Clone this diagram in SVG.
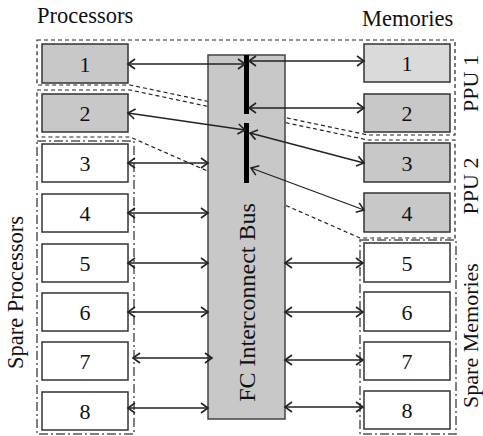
<svg xmlns="http://www.w3.org/2000/svg" width="483" height="436" viewBox="0 0 483 436">
<style>
.t{font-family:"Liberation Serif","Times New Roman",serif;font-size:22.5px;fill:#111}
.r{font-size:22px}
.d{font-family:"Liberation Serif","Times New Roman",serif;font-size:22px;fill:#111;text-anchor:middle}
.box{stroke:#333;stroke-width:1.5}
.g{fill:#c8c8c8}
.w{fill:#fff}
.l{fill:#dadada}
.ppu{fill:none;stroke:#222;stroke-width:1.2;stroke-dasharray:4,3}
.spare{fill:none;stroke:#555;stroke-width:1.5;stroke-dasharray:9,3,2,3}
.ar{stroke:#222;stroke-width:1.3;fill:none;marker-start:url(#ah);marker-end:url(#ah)}
</style>
<defs>
<marker id="ah" viewBox="-9 -7 11 14" markerWidth="11" markerHeight="14" refX="0" refY="0" orient="auto-start-reverse" markerUnits="userSpaceOnUse">
<path d="M-7,-5 L0,0 L-7,5" fill="none" stroke="#222" stroke-width="1.6"/>
</marker>
</defs>
<rect width="483" height="436" fill="#fff"/>

<g id="groups">
<polygon class="ppu" points="37,40 455,40 455,135 368,135 130,85 37,85"/>
<polygon class="ppu" points="37,90 130,90 368,140 455,140 455,238 360,238 130,137 37,137"/>
<rect class="spare" x="37" y="141" width="97" height="293"/>
<rect class="spare" x="360" y="240" width="96" height="194"/>
</g>

<g id="bus">
<rect x="208" y="55" width="77" height="364" fill="#c8c8c8" stroke="#444" stroke-width="1.5"/>
<rect x="244" y="55" width="5" height="59" fill="#000"/>
<rect x="244" y="123" width="5" height="60" fill="#000"/>
<text class="t" style="font-size:24px" text-anchor="middle" transform="translate(255,302.5) rotate(-90)">FC Interconnect Bus</text>
</g>

<g id="processors">
<g id="p1"><rect class="box g" x="42" y="44" width="86" height="39"/><text class="d" x="85" y="72">1</text></g>
<g id="p2"><rect class="box g" x="42" y="94" width="86" height="38"/><text class="d" x="85" y="121">2</text></g>
<g id="p3"><rect class="box w" x="42" y="144" width="86" height="38"/><text class="d" x="85" y="171">3</text></g>
<g id="p4"><rect class="box w" x="42" y="194" width="86" height="38"/><text class="d" x="85" y="221">4</text></g>
<g id="p5"><rect class="box w" x="42" y="244" width="86" height="38"/><text class="d" x="85" y="271">5</text></g>
<g id="p6"><rect class="box w" x="42" y="293" width="86" height="38"/><text class="d" x="85" y="320">6</text></g>
<g id="p7"><rect class="box w" x="42" y="342" width="86" height="38"/><text class="d" x="85" y="369">7</text></g>
<g id="p8"><rect class="box w" x="42" y="392" width="86" height="38"/><text class="d" x="85" y="419">8</text></g>
</g>

<g id="memories">
<g id="m1"><rect class="box l" x="364" y="44" width="86" height="38"/><text class="d" x="407" y="71">1</text></g>
<g id="m2"><rect class="box g" x="364" y="94" width="86" height="38"/><text class="d" x="407" y="121">2</text></g>
<g id="m3"><rect class="box g" x="364" y="143" width="86" height="39"/><text class="d" x="407" y="171">3</text></g>
<g id="m4"><rect class="box g" x="364" y="193" width="86" height="39"/><text class="d" x="407" y="221">4</text></g>
<g id="m5"><rect class="box w" x="364" y="243" width="86" height="39"/><text class="d" x="407" y="271">5</text></g>
<g id="m6"><rect class="box w" x="364" y="292" width="86" height="39"/><text class="d" x="407" y="320">6</text></g>
<g id="m7"><rect class="box w" x="364" y="342" width="86" height="38"/><text class="d" x="407" y="369">7</text></g>
<g id="m8"><rect class="box w" x="364" y="391" width="86" height="38"/><text class="d" x="407" y="418">8</text></g>
</g>

<g id="connectors">
<line class="ar" x1="128" y1="64" x2="245" y2="64"/>
<line class="ar" x1="249" y1="61" x2="364" y2="61"/>
<line class="ar" x1="249" y1="108" x2="364" y2="108"/>
<line class="ar" x1="128" y1="113" x2="245" y2="130"/>
<line class="ar" x1="250" y1="133" x2="364" y2="163"/>
<line class="ar" x1="251" y1="168" x2="364" y2="210"/>
<line class="ar" x1="128" y1="163" x2="208" y2="163"/>
<line class="ar" x1="128" y1="213" x2="208" y2="213"/>
<line class="ar" x1="128" y1="263" x2="208" y2="263"/>
<line class="ar" x1="128" y1="312" x2="208" y2="312"/>
<line class="ar" x1="133" y1="358" x2="212" y2="358"/>
<line class="ar" x1="128" y1="408" x2="208" y2="408"/>
<line class="ar" x1="285" y1="263" x2="363" y2="263"/>
<line class="ar" x1="285" y1="312" x2="363" y2="312"/>
<line class="ar" x1="285" y1="360" x2="363" y2="360"/>
<line class="ar" x1="285" y1="407" x2="363" y2="407"/>
</g>

<g id="labels">
<text class="t" x="37" y="23">Processors</text>
<text class="t" x="362" y="26">Memories</text>
<text class="t r" text-anchor="middle" transform="translate(477.5,83.5) rotate(-90)">PPU 1</text>
<text class="t r" text-anchor="middle" transform="translate(477.5,186) rotate(-90)">PPU 2</text>
<text class="t r" text-anchor="middle" transform="translate(477.5,335.5) rotate(-90)">Spare Memories</text>
<text class="t" text-anchor="middle" transform="translate(23,292.5) rotate(-90)">Spare Processors</text>
</g>
</svg>
